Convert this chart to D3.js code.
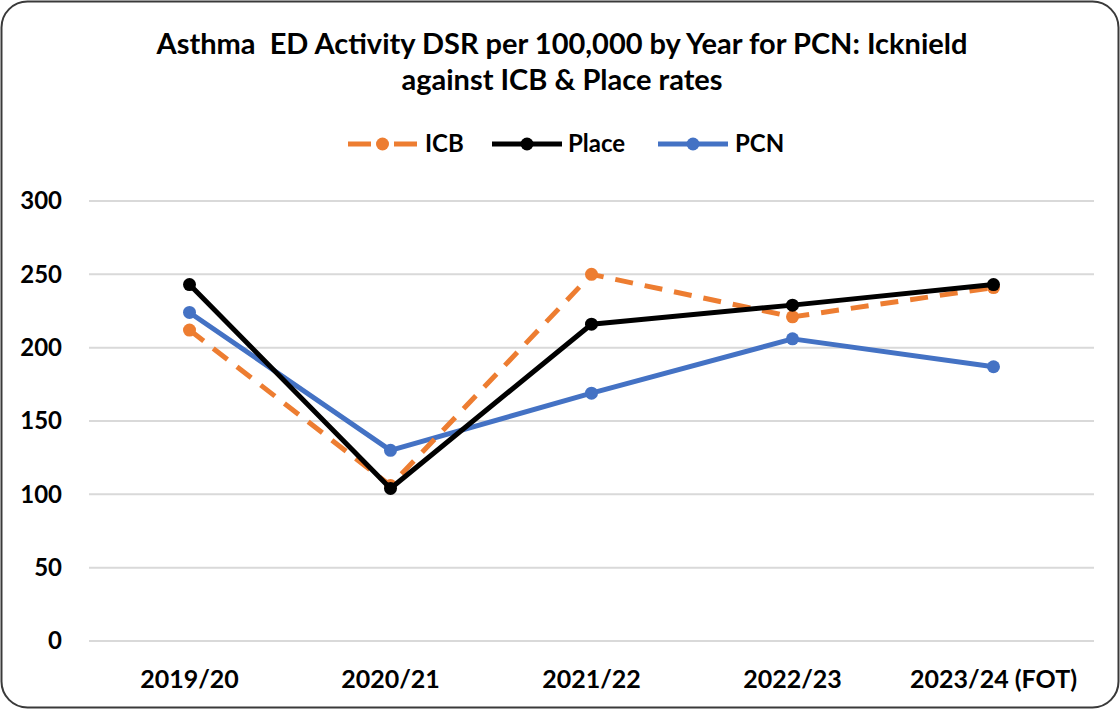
<!DOCTYPE html>
<html><head><meta charset="utf-8">
<script src="https://cdn.jsdelivr.net/npm/d3@7"></script>
<style>body{margin:0;background:#fff;} svg{display:block;}</style>
</head><body>
<svg id="c" width="1120" height="709"></svg>
<script>
const categories = ["2019/20","2020/21","2021/22","2022/23","2023/24 (FOT)"];
const icb   = [212, 106, 250, 221, 241];
const place = [243, 104, 216, 229, 243];
const pcn   = [224, 130, 169, 206, 187];
const yTicks = [0,50,100,150,200,250,300];
const seriesNames = ["ICB","Place","PCN"];

const svg = d3.select("#c");
const W=1120,H=709;
const font = "Lato, 'Open Sans', sans-serif";
svg.append("rect").attr("x",1.5).attr("y",1.5).attr("width",W-3).attr("height",H-3)
  .attr("rx",26).attr("fill","#fff").attr("stroke","#3a3a3a").attr("stroke-width",2);

const m={l:89,r:1094,t:201,b:641};
const x=d3.scaleBand().domain(categories).range([m.l,m.r]);
const y=d3.scaleLinear().domain([0,300]).range([m.b,m.t]);

// gridlines
svg.append("g").selectAll("line").data(yTicks).join("line")
  .attr("x1",m.l).attr("x2",m.r).attr("y1",d=>y(d)).attr("y2",d=>y(d))
  .attr("stroke","#d9d9d9").attr("stroke-width",2);

// y axis
const ya=svg.append("g").attr("transform",`translate(${m.l},0)`)
  .call(d3.axisLeft(y).tickValues(yTicks).tickSize(0).tickPadding(27));
ya.select(".domain").remove();
ya.selectAll("text").attr("font-family",font).attr("font-weight","bold").attr("font-size",24).attr("fill","#000");

// x axis
const xa=svg.append("g").attr("transform",`translate(0,${m.b})`)
  .call(d3.axisBottom(x).tickSize(0).tickPadding(29));
xa.select(".domain").remove();
xa.selectAll("text").attr("font-family",font).attr("font-weight","bold").attr("font-size",25).attr("fill","#000");

const cx=d=>x(d)+x.bandwidth()/2;
const series=[
  {name:"ICB",vals:icb,color:"#ED7D31",dash:"18,12"},
  {name:"Place",vals:place,color:"#000000",dash:null},
  {name:"PCN",vals:pcn,color:"#4472C4",dash:null}
];
const line=d3.line().x((d,i)=>cx(categories[i])).y(d=>y(d));
const order=[series[2],series[0],series[1]];
order.forEach(s=>{
  const g=svg.append("g");
  g.append("path").datum(s.vals).attr("d",line).attr("fill","none")
    .attr("stroke",s.color).attr("stroke-width",5).attr("stroke-linejoin","round")
    .attr("stroke-dasharray",s.dash);
  g.selectAll("circle").data(s.vals).join("circle")
    .attr("cx",(d,i)=>cx(categories[i])).attr("cy",d=>y(d)).attr("r",6.5).attr("fill",s.color);
});

// title
const t=svg.append("text").attr("text-anchor","middle").attr("font-family",font)
  .attr("font-weight","bold").attr("font-size",29).attr("fill","#000");
t.append("tspan").attr("x",562).attr("y",54).text("Asthma\u00a0\u00a0ED Activity DSR per 100,000 by Year for PCN: Icknield");
t.append("tspan").attr("x",562).attr("y",90).text("against ICB & Place rates");

// legend
const leg=[{s:series[0],x1:348,x2:417,tx:425},{s:series[1],x1:492,x2:562,tx:568},{s:series[2],x1:658,x2:728,tx:735}];
leg.forEach(L=>{
  const g=svg.append("g");
  g.append("line").attr("x1",L.x1).attr("x2",L.x2).attr("y1",144).attr("y2",144)
    .attr("stroke",L.s.color).attr("stroke-width",5).attr("stroke-dasharray",L.s.dash?"23,23,23":null);
  g.append("circle").attr("cx",(L.x1+L.x2)/2).attr("cy",144).attr("r",6.5).attr("fill",L.s.color);
  g.append("text").attr("x",L.tx).attr("y",152).attr("font-family",font).attr("font-weight","bold")
    .attr("font-size",24).attr("fill","#000").text(L.s.name);
});
</script>
</body></html>
